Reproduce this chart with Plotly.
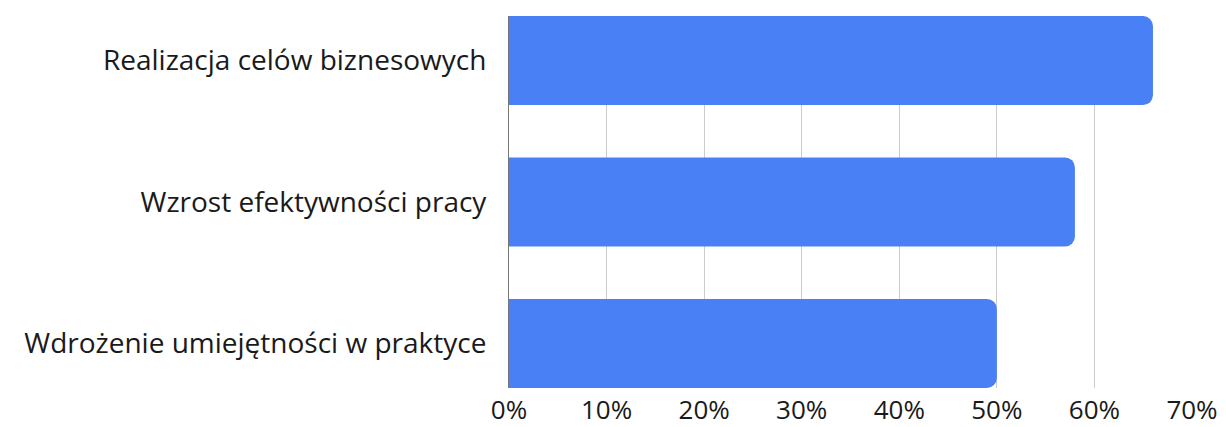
import plotly.graph_objects as go

categories = ["Realizacja celów biznesowych", "Wzrost efektywności pracy", "Wdrożenie umiejętności w praktyce"]
values = [66, 58, 50]
tick_vals = [0, 10, 20, 30, 40, 50, 60, 70]
tick_text = ["0%", "10%", "20%", "30%", "40%", "50%", "60%", "70%"]

fig = go.Figure(go.Bar(
    x=values, y=categories, orientation="h",
    marker=dict(color="#4A80F6", cornerradius=10, line=dict(width=0)),
    width=0.63,
))

fig.update_layout(
    width=1226, height=427,
    margin=dict(l=509, r=34, t=16, b=39, autoexpand=False),
    paper_bgcolor="white", plot_bgcolor="white",
    font=dict(family="Open Sans", size=28, color="#1a1a1a", weight=400),
    showlegend=False,
    xaxis=dict(range=[0, 70], tickvals=tick_vals, ticktext=tick_text,
               tickfont=dict(size=26),
               showgrid=True, gridcolor="#cccccc", gridwidth=1, automargin=False,
               zeroline=False, showline=False, ticks="", ticklabelstandoff=4),
    yaxis=dict(range=[2.315, -0.315], showgrid=False, zeroline=False, automargin=False,
               showline=True, linecolor="#777777", linewidth=1,
               ticks="", ticklabelstandoff=16),
)
fig.write_html("out.html")
